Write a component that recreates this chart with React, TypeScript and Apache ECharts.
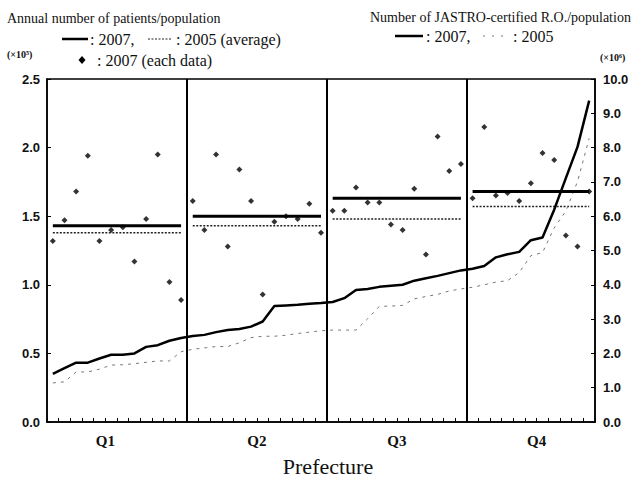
import React, { useEffect, useRef } from "react";
import * as echarts from "echarts";

// 47 prefectures, ranked by number of certified radiation oncologists / population
const prefectures = [
  "1", "2", "3", "4", "5", "6", "7", "8", "9", "10", "11", "12",
  "13", "14", "15", "16", "17", "18", "19", "20", "21", "22", "23", "24",
  "25", "26", "27", "28", "29", "30", "31", "32", "33", "34", "35", "36",
  "37", "38", "39", "40", "41", "42", "43", "44", "45", "46", "47",
];
const quartileLabels = ["Q1", "Q2", "Q3", "Q4"];
const quartileSizes = [12, 12, 12, 11];
const quartileLabelAt = [5, 18, 30, 42];

// Annual number of patients / population (x10^5), left axis
const patients2007 = [
  1.32, 1.47, 1.68, 1.94, 1.32, 1.4, 1.42, 1.17, 1.48, 1.95, 1.02, 0.89,
  1.61, 1.4, 1.95, 1.28, 1.84, 1.61, 0.93, 1.46, 1.5, 1.48, 1.59, 1.38,
  1.54, 1.54, 1.71, 1.6, 1.6, 1.44, 1.4, 1.7, 1.22, 2.08, 1.83, 1.88,
  1.63, 2.15, 1.65, 1.67, 1.61, 1.74, 1.96, 1.91, 1.36, 1.28, 1.68,
];
const patientsAvg2007 = [1.43, 1.5, 1.63, 1.68];
const patientsAvg2005 = [1.38, 1.43, 1.48, 1.57];

// Number of JASTRO-certified R.O. / population (x10^6), right axis
const ro2007 = [
  1.4, 1.57, 1.73, 1.73, 1.85, 1.96, 1.96, 2.0, 2.19, 2.24, 2.37, 2.45,
  2.51, 2.54, 2.62, 2.68, 2.71, 2.78, 2.93, 3.38, 3.4, 3.42, 3.45, 3.47,
  3.5, 3.61, 3.85, 3.88, 3.94, 3.97, 4.0, 4.12, 4.19, 4.26, 4.34, 4.42,
  4.47, 4.55, 4.8, 4.89, 4.96, 5.3, 5.38, 6.19, 7.11, 8.02, 9.37,
];
const ro2005 = [
  1.14, 1.17, 1.46, 1.46, 1.54, 1.66, 1.67, 1.7, 1.74, 1.78, 1.78, 2.05,
  2.12, 2.16, 2.2, 2.2, 2.31, 2.46, 2.5, 2.5, 2.53, 2.58, 2.62, 2.66,
  2.68, 2.68, 2.68, 3.01, 3.37, 3.38, 3.4, 3.59, 3.66, 3.72, 3.82, 3.88,
  3.93, 4.0, 4.08, 4.12, 4.36, 4.85, 4.94, 5.66, 6.15, 7.01, 8.27,
];

const SERIF = '"Liberation Serif", "Times New Roman", serif';
const SANS = '"Liberation Sans", Arial, sans-serif';

export default function App() {
  const ref = useRef<HTMLDivElement>(null);

  useEffect(() => {
    if (!ref.current) return;
    const chart = echarts.init(ref.current, null, { renderer: "svg" });

    const qIndex: number[] = [];
    quartileSizes.forEach((s, q) => {
      for (let k = 0; k < s; k++) qIndex.push(q);
    });
    const starts = quartileSizes.map((_, q) =>
      quartileSizes.slice(0, q).reduce((a, b) => a + b, 0)
    );
    const total = quartileSizes.reduce((a, b) => a + b, 0);
    const labelMap = new Map<number, string>();
    quartileLabelAt.forEach((p, i) => labelMap.set(p, quartileLabels[i]));

    const avgSeries = (vals: number[], name: string, lineStyle: any, z: number) =>
      vals.map((v, q) => ({
        type: "line",
        name: `${name} ${quartileLabels[q]}`,
        xAxisIndex: 0,
        yAxisIndex: 0,
        data: prefectures.map((_, i) => (qIndex[i] === q ? v : null)),
        showSymbol: false,
        symbol: "none",
        lineStyle,
        z,
        silent: true,
      }));

    const option: any = {
      animation: false,
      backgroundColor: "#fff",
      grid: {
        left: 47,
        right: 42,
        top: 79,
        bottom: 58,
        show: true,
        borderColor: "#000",
        borderWidth: 1.5,
        backgroundColor: "transparent",
      },
      xAxis: [
        {
          type: "category",
          data: prefectures,
          boundaryGap: true,
          axisLine: { show: true, lineStyle: { color: "#000", width: 1.5 } },
          axisTick: { show: true, inside: true, length: 4, interval: 0, lineStyle: { color: "#000" } },
          axisLabel: { show: false },
          splitLine: { show: false },
        },
        {
          type: "value",
          min: 0,
          max: total,
          interval: 0.5,
          position: "bottom",
          axisLine: { show: false },
          axisTick: { show: false },
          splitLine: { show: false },
          axisLabel: {
            show: true,
            margin: 11,
            showMinLabel: true,
            showMaxLabel: true,
            formatter: (v: number) => labelMap.get(v) ?? "",
            fontFamily: SERIF,
            fontWeight: "bold",
            fontSize: 15,
            color: "#111",
          },
        },
      ],
      yAxis: [
        {
          type: "value",
          position: "left",
          min: 0,
          max: 2.5,
          interval: 0.5,
          axisLine: { show: true, lineStyle: { color: "#000", width: 1.5 } },
          axisTick: { show: true, inside: true, length: 4, lineStyle: { color: "#000" } },
          splitLine: { show: false },
          axisLabel: {
            margin: 7,
            formatter: (v: number) => v.toFixed(1),
            fontFamily: SANS,
            fontWeight: "bold",
            fontSize: 13,
            color: "#111",
          },
        },
        {
          type: "value",
          position: "right",
          min: 0,
          max: 10,
          interval: 1,
          axisLine: { show: true, lineStyle: { color: "#000", width: 1.5 } },
          axisTick: { show: true, inside: true, length: 4, lineStyle: { color: "#000" } },
          splitLine: { show: false },
          axisLabel: {
            margin: 8,
            formatter: (v: number) => v.toFixed(1),
            fontFamily: SANS,
            fontWeight: "bold",
            fontSize: 13,
            color: "#111",
          },
        },
      ],
      series: [
        {
          type: "line",
          name: "dividers",
          xAxisIndex: 1,
          yAxisIndex: 0,
          data: [],
          silent: true,
          markLine: {
            silent: true,
            symbol: "none",
            label: { show: false },
            lineStyle: { color: "#000", width: 2, type: "solid" },
            data: starts.slice(1).map((s) => ({ xAxis: s })),
          },
        },
        ...avgSeries(patientsAvg2005, "2005 average", { color: "#222", width: 1.5, type: [2, 1.5] }, 3),
        ...avgSeries(patientsAvg2007, "2007 average", { color: "#000", width: 3, type: "solid" }, 4),
        {
          type: "line",
          name: "R.O. 2005",
          xAxisIndex: 0,
          yAxisIndex: 1,
          data: ro2005,
          showSymbol: false,
          symbol: "none",
          lineStyle: { color: "#777", width: 1, type: [3, 5] },
          z: 3,
          silent: true,
        },
        {
          type: "line",
          name: "R.O. 2007",
          xAxisIndex: 0,
          yAxisIndex: 1,
          data: ro2007,
          showSymbol: false,
          symbol: "none",
          lineStyle: { color: "#000", width: 2.5, type: "solid" },
          z: 4,
          silent: true,
        },
        {
          type: "scatter",
          name: "2007 each",
          xAxisIndex: 0,
          yAxisIndex: 0,
          data: patients2007,
          symbol: "diamond",
          symbolSize: 6,
          itemStyle: { color: "#000" },
          z: 5,
          silent: true,
        },
      ],
      graphic: [
        { type: "text", x: 7, y: 18, style: { text: "Annual number of patients/population", font: `14px ${SERIF}`, fill: "#111", verticalAlign: "middle" } },
        { type: "line", shape: { x1: 62, y1: 39, x2: 88, y2: 39 }, style: { stroke: "#000", lineWidth: 2.5 } },
        { type: "text", x: 90, y: 39, style: { text: ": 2007,", font: `16px ${SERIF}`, fill: "#111", verticalAlign: "middle" } },
        { type: "line", shape: { x1: 148, y1: 39, x2: 172, y2: 39 }, style: { stroke: "#222", lineWidth: 1, lineDash: [2, 1.5] } },
        { type: "text", x: 176, y: 39, style: { text: ": 2005 (average)", font: `16px ${SERIF}`, fill: "#111", verticalAlign: "middle" } },
        { type: "text", x: 7, y: 54, style: { text: "(×10⁵)", font: `bold 10px ${SERIF}`, fill: "#111", verticalAlign: "middle" } },
        { type: "polygon", shape: { points: [[82, 56], [85.5, 60], [82, 64], [78.5, 60]] }, style: { fill: "#000" } },
        { type: "text", x: 97, y: 60, style: { text: ": 2007 (each data)", font: `16px ${SERIF}`, fill: "#111", verticalAlign: "middle" } },

        { type: "text", x: 370, y: 17, style: { text: "Number of JASTRO-certified R.O./population", font: `14px ${SERIF}`, fill: "#111", verticalAlign: "middle" } },
        { type: "line", shape: { x1: 395, y1: 36, x2: 423, y2: 36 }, style: { stroke: "#000", lineWidth: 2.5 } },
        { type: "text", x: 426, y: 36, style: { text: ": 2007,", font: `16px ${SERIF}`, fill: "#111", verticalAlign: "middle" } },
        { type: "line", shape: { x1: 483, y1: 36, x2: 507, y2: 36 }, style: { stroke: "#777", lineWidth: 1, lineDash: [2, 7] } },
        { type: "text", x: 513, y: 36, style: { text: ": 2005", font: `16px ${SERIF}`, fill: "#111", verticalAlign: "middle" } },
        { type: "text", x: 600, y: 57, style: { text: "(×10⁶)", font: `bold 10px ${SERIF}`, fill: "#111", verticalAlign: "middle" } },

        { type: "text", x: 328, y: 466, style: { text: "Prefecture", font: `22px ${SERIF}`, fill: "#111", align: "center", verticalAlign: "middle" } },
      ],
    };

    chart.setOption(option);
    return () => chart.dispose();
  }, []);

  return (
    <div
      ref={ref}
      style={{ position: "absolute", left: 0, top: 0, width: 637, height: 480 }}
    />
  );
}
